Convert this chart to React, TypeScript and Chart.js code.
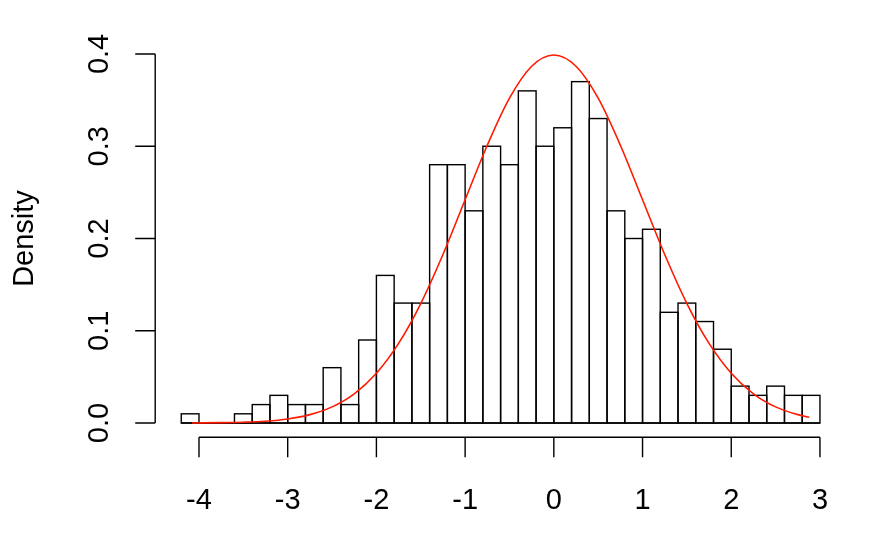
import React, { useEffect, useRef } from "react";
import { Chart, registerables } from "chart.js";

Chart.register(...registerables);

// Histogram bins (left edges), width 0.2
const binLefts = [
  -4.2, -4.0, -3.8, -3.6, -3.4, -3.2, -3.0, -2.8, -2.6, -2.4, -2.2, -2.0,
  -1.8, -1.6, -1.4, -1.2, -1.0, -0.8, -0.6, -0.4, -0.2, 0.0, 0.2, 0.4,
  0.6, 0.8, 1.0, 1.2, 1.4, 1.6, 1.8, 2.0, 2.2, 2.4, 2.6, 2.8,
];
const binWidth = 0.2;
const densities = [
  0.01, 0.0, 0.0, 0.01, 0.02, 0.03, 0.02, 0.02, 0.06, 0.02, 0.09, 0.16,
  0.13, 0.13, 0.28, 0.28, 0.23, 0.3, 0.28, 0.36, 0.3, 0.32, 0.37, 0.33,
  0.23, 0.2, 0.21, 0.12, 0.13, 0.11, 0.08, 0.04, 0.03, 0.04, 0.03, 0.03,
];

// Red density curve
const curveX = [
  -4.08, -3.75, -3.5, -3.25, -3.0, -2.75, -2.5, -2.25, -2.0, -1.75, -1.5,
  -1.25, -1.0, -0.75, -0.5, -0.25, 0.0, 0.25, 0.5, 0.75, 1.0, 1.25, 1.5,
  1.75, 2.0, 2.25, 2.5, 2.75, 2.88,
];
const curveY = [
  0.0001, 0.0004, 0.0009, 0.002, 0.0044, 0.0091, 0.0175, 0.0317, 0.054,
  0.0863, 0.1295, 0.1826, 0.242, 0.3011, 0.3521, 0.3867, 0.3989, 0.3867,
  0.3521, 0.3011, 0.242, 0.1826, 0.1295, 0.0863, 0.054, 0.0317, 0.0175,
  0.0091, 0.0063,
];

const xTicks = [-4, -3, -2, -1, 0, 1, 2, 3];
const xTickLabels = ["-4", "-3", "-2", "-1", "0", "1", "2", "3"];
const yTicks = [0, 0.1, 0.2, 0.3, 0.4];
const yTickLabels = ["0.0", "0.1", "0.2", "0.3", "0.4"];
const yTitle = "Density";

const FONT = '29px "Liberation Sans", Arial, Helvetica, sans-serif';
const LW = 1.4;

// Outline each histogram bar (as R's rect) right after the bar dataset is drawn
const barOutlinePlugin = {
  id: "barOutline",
  afterDatasetDraw(chart: any, args: any) {
    if (args.meta.type !== "bar") return;
    const ctx = chart.ctx;
    const ys = chart.scales.y;
    const xs = chart.scales.x;
    ctx.save();
    ctx.strokeStyle = "#000";
    ctx.lineWidth = LW;
    // baseline (covers empty bins)
    const y0 = ys.getPixelForValue(0);
    ctx.beginPath();
    ctx.moveTo(xs.getPixelForValue(binLefts[0]), y0);
    ctx.lineTo(xs.getPixelForValue(binLefts[binLefts.length - 1] + binWidth), y0);
    ctx.stroke();
    args.meta.data.forEach((el: any) => {
      const p = el.getProps(["x", "y", "base", "width"], true);
      const left = p.x - p.width / 2;
      ctx.strokeRect(left, p.y, p.width, p.base - p.y);
    });
    ctx.restore();
  },
};

const axesPlugin = {
  id: "rAxes",
  afterDraw(chart: any) {
    const ctx = chart.ctx;
    const xs = chart.scales.x;
    const ys = chart.scales.y;
    const area = chart.chartArea;
    ctx.save();
    ctx.strokeStyle = "#000";
    ctx.fillStyle = "#000";
    ctx.lineWidth = LW;

    // x axis
    const ay = area.bottom - 0.5;
    ctx.beginPath();
    ctx.moveTo(xs.getPixelForValue(xTicks[0]), ay);
    ctx.lineTo(xs.getPixelForValue(xTicks[xTicks.length - 1]), ay);
    xTicks.forEach((t) => {
      const px = xs.getPixelForValue(t);
      ctx.moveTo(px, ay);
      ctx.lineTo(px, ay + 20);
    });
    ctx.stroke();
    ctx.font = FONT;
    ctx.textAlign = "center";
    ctx.textBaseline = "alphabetic";
    xTicks.forEach((t, i) => {
      ctx.fillText(xTickLabels[i], xs.getPixelForValue(t), 508.5);
    });

    // y axis
    const ax = area.left - 0.5;
    ctx.beginPath();
    ctx.moveTo(ax, ys.getPixelForValue(yTicks[0]));
    ctx.lineTo(ax, ys.getPixelForValue(yTicks[yTicks.length - 1]));
    yTicks.forEach((t) => {
      const py = ys.getPixelForValue(t);
      ctx.moveTo(ax, py);
      ctx.lineTo(ax - 20, py);
    });
    ctx.stroke();
    yTicks.forEach((t, i) => {
      const py = ys.getPixelForValue(t);
      ctx.save();
      ctx.translate(108, py);
      ctx.rotate(-Math.PI / 2);
      ctx.textAlign = "center";
      ctx.fillText(yTickLabels[i], 0, 0);
      ctx.restore();
    });

    // y title
    ctx.save();
    ctx.translate(33, (area.top + area.bottom) / 2);
    ctx.rotate(-Math.PI / 2);
    ctx.textAlign = "center";
    ctx.fillText(yTitle, 0, 0);
    ctx.restore();

    ctx.restore();
  },
};

export default function App() {
  const ref = useRef<HTMLCanvasElement | null>(null);
  useEffect(() => {
    if (!ref.current) return;
    const chart = new Chart(ref.current, {
      type: "bar",
      data: {
        datasets: [
          {
            type: "line",
            data: curveX.map((x, i) => ({ x, y: curveY[i] })),
            borderColor: "#ff1a00",
            borderWidth: 1.6,
            pointRadius: 0,
            cubicInterpolationMode: "monotone",
            fill: false,
            order: 1,
          } as any,
          {
            type: "bar",
            data: binLefts.map((l, i) => ({ x: l + binWidth / 2, y: densities[i] })),
            backgroundColor: "#ffffff",
            borderWidth: 0,
            inflateAmount: 0,
            barPercentage: 1,
            categoryPercentage: 1,
            order: 2,
          } as any,
        ],
      },
      options: {
        responsive: false,
        animation: false,
        devicePixelRatio: 1,
        layout: { padding: { left: 155.7, right: 40.5, top: 39.2, bottom: 106.2 } },
        plugins: { legend: { display: false }, tooltip: { enabled: false } },
        scales: {
          x: { type: "linear", min: -4.488, max: 3.288, offset: false, display: false },
          y: { type: "linear", min: -0.016, max: 0.416, display: false },
        },
      },
      plugins: [barOutlinePlugin, axesPlugin],
    });
    return () => chart.destroy();
  }, []);
  return (
    <div style={{ position: "fixed", left: 0, top: 0, width: 886, height: 544, background: "#fff" }}>
      <canvas ref={ref} width={886} height={544} style={{ width: 886, height: 544, display: "block" }} />
    </div>
  );
}
